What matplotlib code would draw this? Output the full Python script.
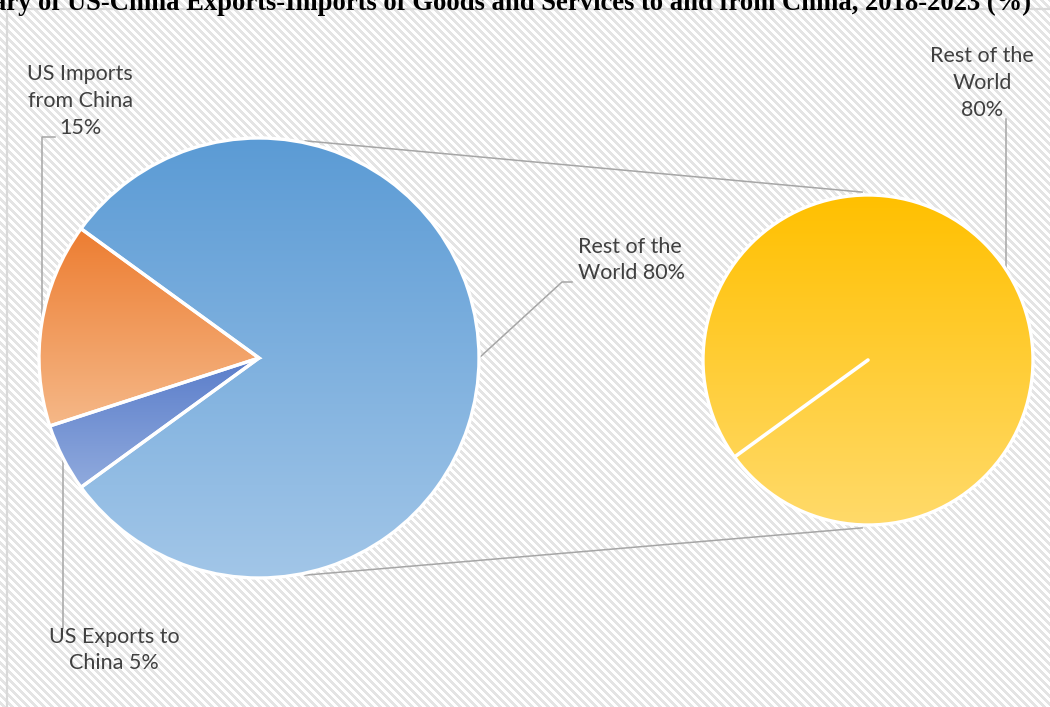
import numpy as np
import matplotlib
matplotlib.use("Agg")
import matplotlib.pyplot as plt
from matplotlib.patches import Wedge
from matplotlib.colors import LinearSegmentedColormap

W, H = 1050, 707

title = ("Summary of US-China Exports-Imports of Goods and Services "
         "to and from China, 2018-2023 (%)")
categories = ["Rest of the World", "US Imports from China", "US Exports to China"]
shares = [80, 15, 5]                      # % of total US trade, main pie
secondary_categories = ["Rest of the World"]
secondary_shares = [80]                   # split-out slice, shown in the secondary pie

# vertical gradient (top -> bottom) per slice
top_colors = ["#5B9BD5", "#ED7D31", "#5A7DCA"]
bottom_colors = ["#A2C6E8", "#F5B888", "#90AADD"]
gold_top, gold_bottom = "#FFC000", "#FFDA6A"

TEXT = "#404040"
LEAD = "#A6A6A6"
FONT = "Lato"
FS = 15.5

fig = plt.figure(figsize=(W / 100, H / 100), dpi=100)

# diagonal-stripe background
yy, xx = np.mgrid[0:H, 0:W]
stripe = ((xx - yy) % 8) < 4
bg = np.where(stripe[..., None], 0.895, 1.0) * np.ones((1, 1, 3))
fig.figimage(bg, xo=0, yo=0, origin="upper", zorder=-10)

ax = fig.add_axes([0, 0, 1, 1])
ax.set_zorder(5)
ax.patch.set_alpha(0)
ax.axis("off")


def Y(y):
    """pixel row (from top) -> data y (from bottom)"""
    return H - y


def gradient_wedge(center, r, t1, t2, top, bottom, z):
    w = Wedge(center, r, t1, t2, facecolor="none", edgecolor="white",
              lw=2.4, joinstyle="miter", zorder=z + 1)
    ax.add_patch(w)
    ext = w.get_path().get_extents()
    cmap = LinearSegmentedColormap.from_list("g", [top, bottom])
    im = ax.imshow(np.linspace(0, 1, 256)[:, None], cmap=cmap,
                   extent=(ext.x0, ext.x1, ext.y0, ext.y1), origin="upper",
                   aspect="auto", interpolation="bilinear", zorder=z)
    im.set_clip_path(w)
    return w


# border of the chart area
ax.plot([7, 7], [Y(9), 0], color="#D9D9D9", lw=1.6, zorder=1)
ax.plot([7, W], [Y(9), Y(9)], color="#D9D9D9", lw=1.6, zorder=1)

# main pie
c1, r1 = (259, Y(358)), 220
start = -shares[0] / 100 * 360 / 2
theta = start
mids = []
for i, s in enumerate(shares):
    span = s / 100 * 360
    gradient_wedge(c1, r1, theta, theta + span, top_colors[i], bottom_colors[i], 3)
    mids.append(theta + span / 2)
    theta += span

# secondary pie (single slice, seam at its start angle)
c2, r2 = (868, Y(360)), 165
seam = start + 360
gradient_wedge(c2, r2, seam, seam + 360, gold_top, gold_bottom, 3)
a = np.deg2rad(seam)
ax.plot([c2[0], c2[0] + r2 * np.cos(a)], [c2[1], c2[1] + r2 * np.sin(a)],
        color="white", lw=2.6, solid_capstyle="round", zorder=5)

# connector lines between the pies
for sgn in (1, -1):
    a1, a2 = np.deg2rad(78 * sgn), np.deg2rad(92 * sgn)
    ax.plot([c1[0] + (r1 + 2) * np.cos(a1), c2[0] + (r2 + 3) * np.cos(a2)],
            [c1[1] + (r1 + 2) * np.sin(a1), c2[1] + (r2 + 3) * np.sin(a2)],
            color=LEAD, lw=1.1, zorder=2)


def edge_pt(c, r, ang):
    t = np.deg2rad(ang)
    return c[0] + r * np.cos(t), c[1] + r * np.sin(t)


txt = dict(color=TEXT, family=FONT, fontsize=FS, linespacing=1.42, zorder=6)

# US Imports from China
x0, y0 = edge_pt(c1, r1, mids[1])
ax.plot([x0, x0, 55], [y0, Y(137), Y(137)], color=LEAD, lw=1.1, zorder=2)
ax.text(80, Y(101), f"US Imports\nfrom China\n{shares[1]}%", ha="center", va="center", **txt)

# US Exports to China
x0, y0 = edge_pt(c1, r1, mids[2])
ax.plot([x0, x0], [y0, Y(628)], color=LEAD, lw=1.1, zorder=2)
ax.text(114, Y(650), f"US Exports to\nChina {shares[2]}%", ha="center", va="center", **txt)

# Rest of the World (main pie)
x0, y0 = edge_pt(c1, r1, mids[0])
ax.plot([x0, 562, 572], [y0, Y(282), Y(282)], color=LEAD, lw=1.1, zorder=2)
ax.text(578, Y(260), f"Rest of the\nWorld {shares[0]}%", ha="left", va="center", **txt)

# Rest of the World (secondary pie)
x0, y0 = edge_pt(c2, r2, 33)
ax.plot([x0, x0], [y0, Y(119)], color=LEAD, lw=1.1, zorder=2)
ax.text(982, Y(83), f"Rest of the\nWorld\n{secondary_shares[0]}%", ha="center", va="center", **txt)

# title, clipped by the top edge of the canvas
ax.text(1031, Y(10), title, ha="right", va="baseline", family="Liberation Serif",
        fontweight="bold", fontsize=19.2, color="black", zorder=6)

ax.set_xlim(0, W)
ax.set_ylim(0, H)
fig.savefig("out.png", dpi=100)
